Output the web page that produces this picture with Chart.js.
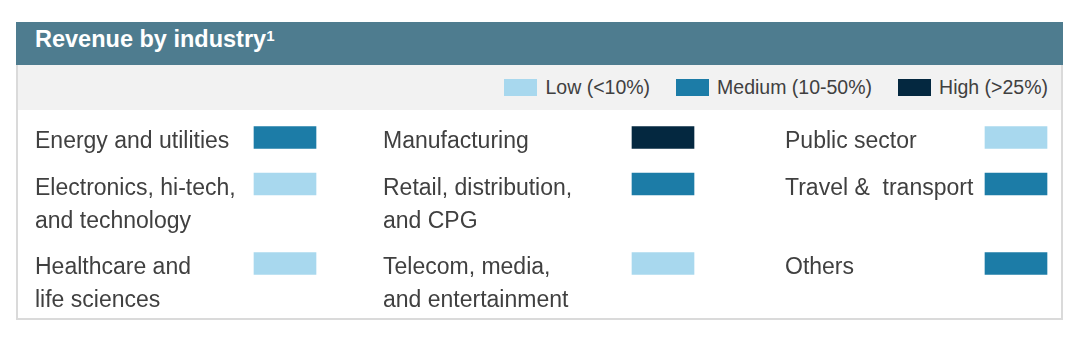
<!DOCTYPE html>
<html>
<head>
<meta charset="utf-8">
<script src="https://cdn.jsdelivr.net/npm/chart.js@4.4.1/dist/chart.umd.min.js"></script>
<style>
  body { margin: 0; background: #fff; font-family: "Liberation Sans", Arial, sans-serif; }
  #panel { position: absolute; left: 16px; top: 22px; width: 1047px; }
  #header {
    height: 43px; box-sizing: border-box; padding: 4px 0 0 19px;
    background: #4e7c8f; color: #fff; font-weight: bold; font-size: 23.5px; line-height: 26px;
  }
  #header sup { font-size: 15px; line-height: 0; vertical-align: 6px; }
  #legend {
    height: 45px; background: #f2f2f2;
    border-left: 2px solid #dadada; border-right: 2px solid #dadada;
    display: flex; justify-content: flex-end; align-items: center; padding-right: 13px;
  }
  .item { display: flex; align-items: center; margin-left: 26px; font-size: 19.5px; color: #404040; }
  .box { width: 33px; height: 17px; margin-right: 8px; }
  #grid { width: 1047px; height: 210px; box-sizing: border-box; border: 2px solid #dadada; border-top: none; }
  #grid canvas { display: block; }
</style>
</head>
<body>
<div id="panel">
  <div id="header">Revenue by industry<sup>1</sup></div>
  <div id="legend"></div>
  <div id="grid"><canvas id="industryChart" width="1043" height="208"></canvas></div>
</div>
<script>
// Данные
const industries = [
  'Energy and utilities',
  'Electronics, hi-tech,\nand technology',
  'Healthcare and\nlife sciences',
  'Manufacturing',
  'Retail, distribution,\nand CPG',
  'Telecom, media,\nand entertainment',
  'Public sector',
  'Travel &  transport',
  'Others'
];
const levels = ['Low (<10%)', 'Medium (10-50%)', 'High (>25%)'];
// индекс уровня для каждой отрасли
const industryLevel = [1, 0, 0, 2, 1, 0, 0, 1, 1];

// Стили и раскладка
const levelColors = ['#a8d8ee', '#1c7ca7', '#042840'];
const rowsPerColumn = 3;
const columns = [
  { text: 17, swatch: 236 },
  { text: 365, swatch: 614 },
  { text: 767, swatch: 967 }
];
const swatchWidth = 62;
const firstRowCenter = 27.5;
const lineHeight = 33;
const rowGap = 13.5;
const textColor = '#404040';
const textFont = '23px "Liberation Sans", Arial, sans-serif';

const canvas = document.getElementById('industryChart');
const W = canvas.width;
const H = canvas.height;

// высота строки = максимум строк текста в этой строке таблицы
const rowLines = [];
industries.forEach((name, i) => {
  const row = i % rowsPerColumn;
  rowLines[row] = Math.max(rowLines[row] || 0, name.split('\n').length);
});
const rowCenters = [];
rowLines.forEach((n, r) => {
  rowCenters[r] = r === 0 ? firstRowCenter : rowCenters[r - 1] + rowLines[r - 1] * lineHeight + rowGap;
});

const cellOf = (i) => ({ col: Math.floor(i / rowsPerColumn), row: i % rowsPerColumn });

const labelPlugin = {
  id: 'industryLabels',
  afterDatasetsDraw(chart) {
    const { ctx, scales: { x, y } } = chart;
    ctx.save();
    ctx.font = textFont;
    ctx.fillStyle = textColor;
    ctx.textAlign = 'left';
    ctx.textBaseline = 'alphabetic';
    industries.forEach((name, i) => {
      const { col, row } = cellOf(i);
      name.split('\n').forEach((line, k) => {
        const px = x.getPixelForValue(columns[col].text);
        const py = y.getPixelForValue(rowCenters[row] + k * lineHeight) + 10.5;
        ctx.fillText(line, px, py);
      });
    });
    ctx.restore();
  }
};

// HTML-легенда из уровней
const legendEl = document.getElementById('legend');
levels.forEach((name, i) => {
  const item = document.createElement('div');
  item.className = 'item';
  const box = document.createElement('span');
  box.className = 'box';
  box.style.background = levelColors[i];
  const txt = document.createElement('span');
  txt.textContent = name;
  item.appendChild(box);
  item.appendChild(txt);
  legendEl.appendChild(item);
});

new Chart(canvas, {
  type: 'bar',
  data: {
    datasets: [{
      label: 'Revenue share',
      data: industries.map((name, i) => {
        const { col, row } = cellOf(i);
        return { x: [columns[col].swatch, columns[col].swatch + swatchWidth], y: rowCenters[row] };
      }),
      backgroundColor: industryLevel.map(l => levelColors[l]),
      barThickness: 22,
      borderWidth: 0
    }]
  },
  options: {
    indexAxis: 'y',
    animation: false,
    responsive: false,
    layout: { padding: 0 },
    plugins: {
      legend: { display: false },
      tooltip: { enabled: false }
    },
    scales: {
      x: { type: 'linear', min: 0, max: W, display: false },
      y: { type: 'linear', min: 0, max: H, reverse: true, offset: false, display: false }
    }
  },
  plugins: [labelPlugin]
});
</script>
</body>
</html>
